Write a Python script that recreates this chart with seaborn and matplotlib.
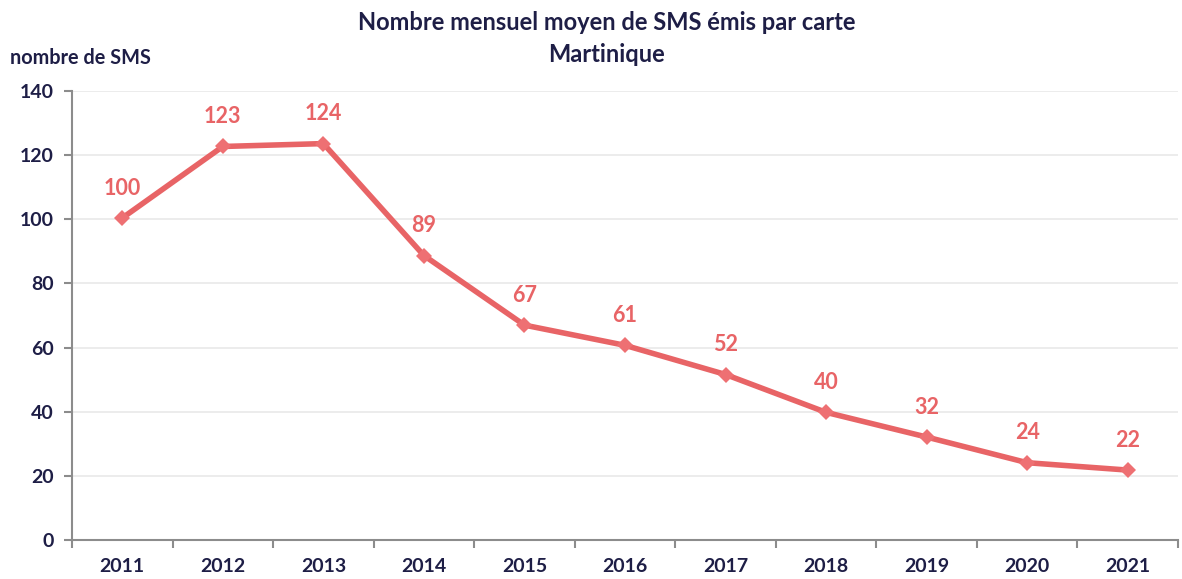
import matplotlib
matplotlib.use("Agg")
import matplotlib.pyplot as plt
import seaborn as sns
import pandas as pd
import numpy as np
from matplotlib.ticker import FixedLocator, NullFormatter

years = ["2011", "2012", "2013", "2014", "2015", "2016", "2017", "2018", "2019", "2020", "2021"]
sms_per_card = [100.4, 122.7, 123.6, 88.7, 67.0, 60.7, 51.6, 39.8, 32.1, 24.1, 21.8]
y_ticks = [0, 20, 40, 60, 80, 100, 120, 140]

sns.set_theme(style="white")
plt.rcParams["font.family"] = ["Lato", "DejaVu Sans"]
plt.rcParams["font.weight"] = "bold"

navy = "#1E1E46"
red = "#E86466"
marker_red = "#EE7073"
spine_grey = "#8C8C8C"

df = pd.DataFrame({"year": years, "sms": sms_per_card})

fig = plt.figure(figsize=(11.82, 5.79), dpi=100)
ax = fig.add_axes([72 / 1182, 1 - 540 / 579, (1178 - 72) / 1182, (540 - 91) / 579])

sns.lineplot(data=df, x="year", y="sms", ax=ax, color=red, linewidth=4,
             marker="D", markersize=8.5, markeredgewidth=0,
             markerfacecolor=marker_red, sort=False)

n = len(years)
ax.set_xlim(-0.5, n - 0.5)
ax.set_ylim(0, 140)
ax.set_yticks(y_ticks)
ax.set_yticklabels([str(v) for v in y_ticks], color=navy, fontsize=14, fontweight="bold")
ax.set_xticks(range(n))
ax.set_xticklabels(years, color=navy, fontsize=14, fontweight="bold")
ax.xaxis.set_minor_locator(FixedLocator(np.arange(-0.5, n, 1.0)))
ax.xaxis.set_minor_formatter(NullFormatter())
ax.tick_params(axis="x", which="major", length=0, pad=13)
ax.tick_params(axis="x", which="minor", length=6, width=1.5, color=spine_grey, direction="out", bottom=True)
ax.tick_params(axis="y", length=6, width=1.5, color=spine_grey, direction="out", left=True, pad=7)

ax.grid(axis="y", color="#E9E9E9", linewidth=1.2)
ax.grid(axis="x", visible=False)
for side in ["top", "right"]:
    ax.spines[side].set_visible(False)
for side in ["left", "bottom"]:
    ax.spines[side].set_color(spine_grey)
    ax.spines[side].set_linewidth(1.5)
ax.set_xlabel("")
ax.set_ylabel("")

for i, v in enumerate(sms_per_card):
    ax.annotate(f"{v:.0f}", (i, v), xytext=(0, 14), textcoords="offset points",
                ha="center", va="bottom", color=red, fontsize=15.5, fontweight="bold")

fig.text(607 / 1182, 1 - 23 / 579, "Nombre mensuel moyen de SMS émis par carte",
         ha="center", va="center", color=navy, fontsize=17, fontweight="bold")
fig.text(607 / 1182, 1 - 54 / 579, "Martinique",
         ha="center", va="center", color=navy, fontsize=17, fontweight="bold")
fig.text(10 / 1182, 1 - 58 / 579, "nombre de SMS",
         ha="left", va="center", color=navy, fontsize=14.3, fontweight="bold")

fig.savefig("out.png", dpi=100, facecolor="white")
